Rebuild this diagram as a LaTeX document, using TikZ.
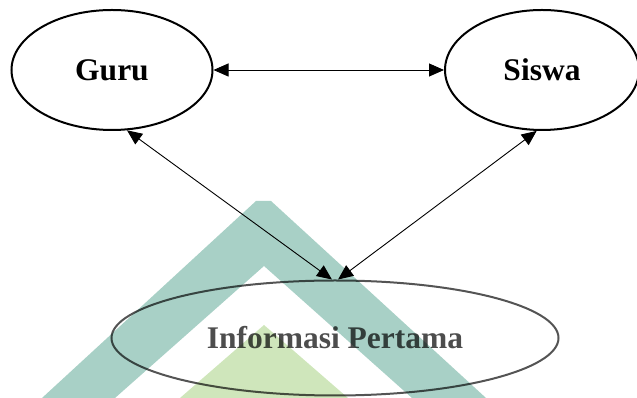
\documentclass[tikz,border=0pt]{standalone}
\usepackage{fontspec}
\setmainfont{Liberation Serif}
\usetikzlibrary{arrows.meta,shapes.geometric}
\definecolor{wmteal}{HTML}{A8D0C6}
\definecolor{wmgreen}{HTML}{CFE6BB}
\definecolor{infogray}{HTML}{4D4D4D}
\tikzset{
  bubble/.style={ellipse, draw, line width=2pt, inner sep=0pt,
    font=\fontsize{31.5}{36}\selectfont\bfseries},
  link/.style={line width=0.9pt,
    {Triangle[length=15pt,width=13pt]}-{Triangle[length=15pt,width=13pt]}}
}

\begin{document}
\begin{tikzpicture}[x=1pt,y=1pt]
		%%%%% START %%%%%
		\useasboundingbox (0,0) rectangle (637,398);
		
		\node[bubble, minimum width=201, minimum height=120] (Guru) at (112,328) {Guru};
		\node[bubble, minimum width=194, minimum height=120] (Siswa) at (542,328) {Siswa};
		\node[bubble, draw=black!67, text=infogray, minimum width=447, minimum height=115] (Info) at (335,60) {\raisebox{-3pt}{Informasi Pertama}};
		
		\draw[link] (Guru.east) -- (Siswa.west);
		\draw[link] (Guru.-76) -- (Info.93);
		\draw[link] (Siswa.-95) -- (Info.87);
		
		% watermark
		\begin{scope}[blend mode=multiply]
		\fill[wmteal] (42,0) -- (256,197) -- (271,197) -- (486,0) -- (412,0) -- (264,132) -- (115,0) -- cycle;
		\fill[wmgreen] (180,0) -- (264,73) -- (348,0) -- cycle;
		\end{scope}
		
		%%%%% END %%%%%
	\end{tikzpicture}
\end{document}
